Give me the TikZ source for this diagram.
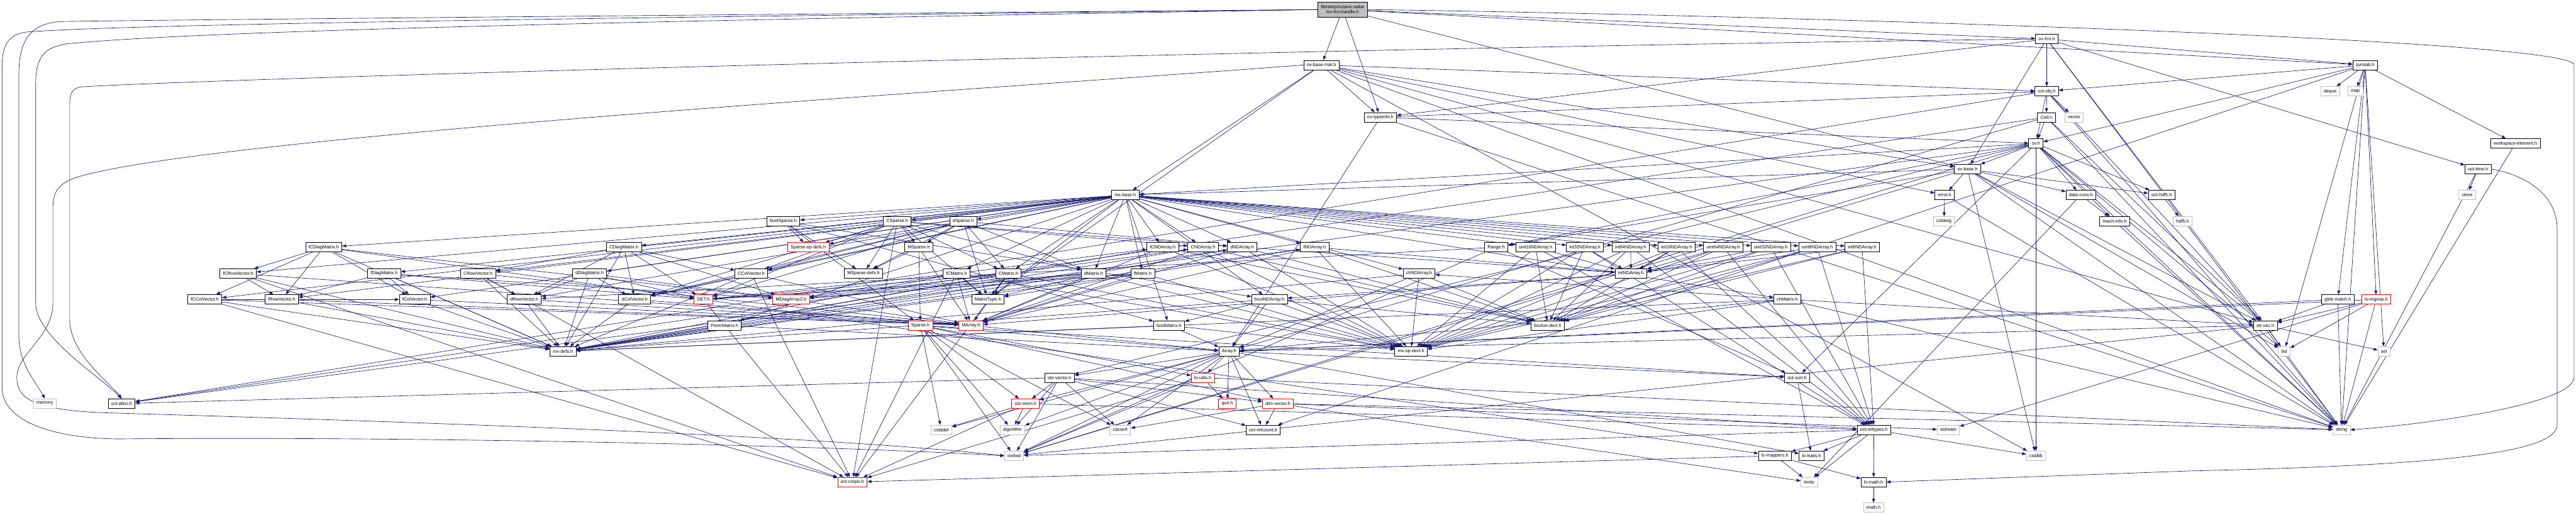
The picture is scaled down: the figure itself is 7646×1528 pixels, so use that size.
\documentclass[tikz,border=0pt]{standalone}
\usepackage{fontspec}
\setmainfont{Liberation Sans}
\usetikzlibrary{arrows.meta,backgrounds}
\definecolor{eblue}{HTML}{191970}
\definecolor{lgray}{HTML}{BFBFBF}
\tikzset{
  nb/.style={draw=black, line width=1.4pt, fill=white, minimum height=28pt, inner xsep=9pt, inner ysep=0pt, font=\fontsize{13.6}{15}\selectfont},
  ng/.style={nb, draw=lgray},
  nr/.style={nb, draw=red},
  ntop/.style={nb, fill=lgray, align=center, minimum height=45pt},
  e/.style={draw=eblue, line width=1.2pt, -{Triangle[length=12pt,width=9pt]}},
}
\begin{document}
\begin{tikzpicture}[x=1pt,y=1pt]
\useasboundingbox (0,0) rectangle (7646,-1528);
% ---- nodes ----
\node[ntop] (H) at (3985,-28.5) {libinterp/octave-value\\/ov-fcn-handle.h};
\node[nb] (F) at (6075,-116) {ov-fcn.h};
\node[nb] (BM) at (3922,-193) {ov-base-mat.h};
\node[nb] (S) at (7020,-193) {symtab.h};
\node[nb] (O) at (6075,-271) {oct-obj.h};
\node[ng] (deque) at (6916,-271) {deque};
\node[ng] (map) at (6991,-271) {map};
\node[nb] (TI) at (4097,-348) {ov-typeinfo.h};
\node[nb] (Cell) at (6074,-348) {Cell.h};
\node[ng] (vector) at (6156,-348) {vector};
\node[nb] (V) at (6043,-426) {ov.h};
\node[nb] (WE) at (7466,-426) {workspace-element.h};
\node[nb] (B) at (5840,-502) {ov-base.h};
\node[nb] (OT) at (7355,-502) {oct-time.h};
\node[nb] (MB) at (3340,-579) {mx-base.h};
\node[nb] (err) at (5772,-579) {error.h};
\node[nb] (DC) at (6176,-579) {data-conv.h};
\node[nb] (hdfive) at (6416,-579) {oct-hdf5.h};
\node[ng] (ctime) at (7323,-579) {ctime};
\node[nb] (boolSp) at (2325,-657) {boolSparse.h};
\node[nb] (CSp) at (2663,-657) {CSparse.h};
\node[nb] (dSp) at (2859,-657) {dSparse.h};
\node[ng] (cstdarg) at (5770,-657) {cstdarg};
\node[nb] (machinfo) at (6277,-657) {mach-info.h};
\node[ng] (hdfiveh) at (6478,-657) {hdf5.h};
\node[nb] (fCDiag) at (961,-734) {fCDiagMatrix.h};
\node[nb] (CDiag) at (1852,-734) {CDiagMatrix.h};
\node[nr] (SpOpDefs) at (2399,-734) {Sparse-op-defs.h};
\node[nb] (MSp) at (2727,-734) {MSparse.h};
\node[nb] (fCND) at (3451,-734) {fCNDArray.h};
\node[nb] (CND) at (3571,-734) {CNDArray.h};
\node[nb] (dND) at (3687,-734) {dNDArray.h};
\node[nb] (fND) at (3902,-734) {fNDArray.h};
\node[nb] (Range) at (4441,-734) {Range.h};
\node[nb] (u16) at (4558,-734) {uint16NDArray.h};
\node[nb] (i32) at (4704,-734) {int32NDArray.h};
\node[nb] (i64) at (4840,-734) {int64NDArray.h};
\node[nb] (i16) at (4976,-734) {int16NDArray.h};
\node[nb] (u64) at (5115,-734) {uint64NDArray.h};
\node[nb] (u32) at (5256,-734) {uint32NDArray.h};
\node[nb] (u8) at (5394,-734) {uint8NDArray.h};
\node[nb] (i8) at (5527,-734) {int8NDArray.h};
\node[nb] (fCRow) at (707,-812) {fCRowVector.h};
\node[nb] (fDiag) at (1140,-812) {fDiagMatrix.h};
\node[nb] (CRow) at (1419,-812) {CRowVector.h};
\node[nb] (dDiag) at (1750,-812) {dDiagMatrix.h};
\node[nb] (CCol) at (2230,-812) {CColVector.h};
\node[nb] (MSpDefs) at (2563,-812) {MSparse-defs.h};
\node[nb] (fCM) at (2839,-812) {fCMatrix.h};
\node[nb] (CM) at (2993,-812) {CMatrix.h};
\node[nb] (dM) at (3246,-812) {dMatrix.h};
\node[nb] (fM) at (3392,-812) {fMatrix.h};
\node[nb] (chND) at (4212,-812) {chNDArray.h};
\node[nb] (intND) at (4841,-812) {intNDArray.h};
\node[nb] (fCCol) at (608,-889) {fCColVector.h};
\node[nb] (fRow) at (836,-889) {fRowVector.h};
\node[nb] (fCol) at (1231,-889) {fColVector.h};
\node[nb] (dRow) at (1556,-889) {dRowVector.h};
\node[nb] (dCol) at (1884,-889) {dColVector.h};
\node[nr] (DET) at (2088,-889) {DET.h};
\node[nr] (MDiag) at (2348,-889) {MDiagArray2.h};
\node[nb] (MT) at (2932,-889) {MatrixType.h};
\node[nb] (boolND) at (3768,-889) {boolNDArray.h};
\node[nb] (chM) at (5305,-889) {chMatrix.h};
\node[nb] (glob) at (6939,-889) {glob-match.h};
\node[nr] (regexp) at (7053,-889) {lo-regexp.h};
\node[nb] (Perm) at (2151,-966) {PermMatrix.h};
\node[nr] (Sparse) at (2732,-966) {Sparse.h};
\node[nr] (MArray) at (2882,-966) {MArray.h};
\node[nb] (boolM) at (3470,-966) {boolMatrix.h};
\node[nb] (bsx) at (4594,-966) {bsxfun-decl.h};
\node[nb] (strvec) at (6724,-966) {str-vec.h};
\node[nb] (mxdefs) at (1671,-1043) {mx-defs.h};
\node[nb] (Array) at (3648,-1043) {Array.h};
\node[nb] (mxop) at (4188,-1043) {mx-op-decl.h};
\node[ng] (list) at (6780,-1043) {list};
\node[ng] (set) at (7076,-1043) {set};
\node[nb] (idx) at (3145,-1121) {idx-vector.h};
\node[nr] (loutils) at (3570,-1121) {lo-utils.h};
\node[nb] (octsort) at (5334,-1121) {oct-sort.h};
\node[ng] (memory) at (133,-1198) {memory};
\node[nb] (octalloc) at (361,-1198) {oct-alloc.h};
\node[nr] (octmem) at (3044,-1198) {oct-mem.h};
\node[nr] (quit) at (3643,-1198) {quit.h};
\node[nr] (dimv) at (3793,-1198) {dim-vector.h};
\node[ng] (cstddef) at (2794,-1276) {cstddef};
\node[ng] (algorithm) at (3005,-1276) {algorithm};
\node[ng] (cassert) at (3325,-1276) {cassert};
\node[nb] (refcount) at (3749,-1276) {oct-refcount.h};
\node[nb] (inttypes) at (5562,-1276) {oct-inttypes.h};
\node[ng] (sstream) at (5783,-1276) {sstream};
\node[ng] (string) at (6950,-1276) {string};
\node[ng] (iosfwd) at (3010,-1353) {iosfwd};
\node[nb] (lomappers) at (5268,-1353) {lo-mappers.h};
\node[nb] (lotraits) at (5377,-1353) {lo-traits.h};
\node[ng] (cstdlib) at (6043,-1353) {cstdlib};
\node[nr] (cmplx) at (2530,-1431) {oct-cmplx.h};
\node[ng] (limits) at (5370,-1431) {limits};
\node[nb] (lomath) at (5561,-1431) {lo-math.h};
\node[ng] (mathh) at (5561,-1507) {math.h};
% ---- edges ----
\begin{scope}[on background layer]
\fill[white] (0,0) rectangle (7646,-1528);
\foreach \t in {B,BM,F,TI,S} \draw[e] (H) -- (\t);
\foreach \t in {cstdlib,string,MB,strvec,MT,err,O,B,TI} \draw[e] (BM) -- (\t);
\foreach \t in {string,Array,O,V} \draw[e] (TI) -- (\t);
\foreach \t in {string,OT,strvec,O,B,TI,S} \draw[e] (F) -- (\t);
\foreach \t in {deque,list,map,set,string,glob,regexp,O,refcount,V,WE} \draw[e] (S) -- (\t);
\foreach \t in {string,vector,octalloc,strvec,Cell,V} \draw[e] (O) -- (\t);
\foreach \t in {string,Array,octalloc,strvec,V} \draw[e] (Cell) -- (\t);
\foreach \t in {cstdlib,iosfwd,string,list,Range,DC,idx,machinfo,MB,octalloc,hdfive,octsort,strvec,B} \draw[e] (V) -- (\t);
\foreach \t in {cstdlib,iosfwd,list,string,Range,DC,MB,strvec,err,hdfive} \draw[e] (B) -- (\t);
\foreach \t in {cstdarg,string} \draw[e] (err) -- (\t);
\foreach \t in {limits,machinfo} \draw[e] (DC) -- (\t);
\draw[e] (machinfo) -- (string);
\draw[e] (hdfive) -- (hdfiveh);
\foreach \t in {ctime,string} \draw[e] (OT) -- (\t);
\draw[e] (WE) -- (string);
\foreach \t in {string,Array,strvec} \draw[e] (glob) -- (\t);
\foreach \t in {list,sstream,string,Array,strvec} \draw[e] (regexp) -- (\t);
\foreach \t in {iosfwd,list,set,string,Array} \draw[e] (strvec) -- (\t);
\foreach \t in {MT,boolM,chM,dM,CM,fM,fCM,dCol,CCol,fCol,fCCol,dRow,CRow,fRow,fCRow,dDiag,CDiag,fDiag,fCDiag,Perm,boolSp,CSp,dSp,boolND,chND,dND,CND,fND,fCND,i8,i16,i32,i64,u8,u16,u32,u64} \draw[e] (MB) -- (\t);
\foreach \t in {iosfwd,dRow,octsort} \draw[e] (Range) -- (\t);
\foreach \t in {dND,MArray,MDiag,MT,mxdefs,mxop,DET} \draw[e] (dM) -- (\t);
\foreach \t in {CND,MArray,MDiag,MT,mxdefs,mxop,DET,cmplx} \draw[e] (CM) -- (\t);
\foreach \t in {fND,MArray,MDiag,MT,mxdefs,mxop,DET} \draw[e] (fM) -- (\t);
\foreach \t in {fCND,MArray,MDiag,MT,mxdefs,mxop,DET,cmplx} \draw[e] (fCM) -- (\t);
\foreach \t in {MArray,mxdefs} \draw[e] (dCol) -- (\t);
\foreach \t in {MArray,mxdefs} \draw[e] (dRow) -- (\t);
\foreach \t in {MArray,mxdefs} \draw[e] (fCol) -- (\t);
\foreach \t in {MArray,mxdefs} \draw[e] (fRow) -- (\t);
\foreach \t in {dCol,MArray,mxdefs,cmplx} \draw[e] (CCol) -- (\t);
\foreach \t in {dRow,MArray,mxdefs,cmplx} \draw[e] (CRow) -- (\t);
\foreach \t in {fCol,MArray,mxdefs,cmplx} \draw[e] (fCCol) -- (\t);
\foreach \t in {fRow,MArray,mxdefs,cmplx} \draw[e] (fCRow) -- (\t);
\foreach \t in {MDiag,dRow,dCol,DET,mxdefs} \draw[e] (dDiag) -- (\t);
\foreach \t in {MDiag,CRow,CCol,dRow,dCol,DET,mxdefs} \draw[e] (CDiag) -- (\t);
\foreach \t in {MDiag,fRow,fCol,DET,mxdefs} \draw[e] (fDiag) -- (\t);
\foreach \t in {MDiag,fCRow,fCCol,fRow,fCol,DET,mxdefs} \draw[e] (fCDiag) -- (\t);
\foreach \t in {Array,mxdefs} \draw[e] (Perm) -- (\t);
\foreach \t in {Array,mxdefs,mxop} \draw[e] (boolM) -- (\t);
\foreach \t in {Array,mxdefs,mxop,boolM,bsx} \draw[e] (boolND) -- (\t);
\foreach \t in {string,Array,chND,mxdefs,mxop,strvec} \draw[e] (chM) -- (\t);
\foreach \t in {Array,mxdefs,mxop,bsx} \draw[e] (chND) -- (\t);
\foreach \t in {MArray,intND,mxdefs,mxop,bsx} \draw[e] (dND) -- (\t);
\foreach \t in {MArray,mxdefs,mxop,bsx} \draw[e] (CND) -- (\t);
\foreach \t in {MArray,intND,mxdefs,mxop,bsx} \draw[e] (fND) -- (\t);
\foreach \t in {MArray,mxdefs,mxop,bsx} \draw[e] (fCND) -- (\t);
\foreach \t in {MArray,boolND} \draw[e] (intND) -- (\t);
\foreach \s in {i8,i16,i32,i64,u8,u16,u32,u64} {
  \foreach \t in {intND,mxop,inttypes,bsx} \draw[e] (\s) -- (\t);
}
\foreach \t in {dM,dND,CM,dCol,CCol,DET,MSp,MSpDefs,SpOpDefs,MT} \draw[e] (dSp) -- (\t);
\foreach \t in {dM,dND,CND,CM,dCol,CCol,DET,MSp,MSpDefs,SpOpDefs,MT,cmplx} \draw[e] (CSp) -- (\t);
\foreach \t in {Sparse,MSpDefs,SpOpDefs,boolM,boolND} \draw[e] (boolSp) -- (\t);
\foreach \t in {MArray,Sparse,MSpDefs} \draw[e] (MSp) -- (\t);
\foreach \t in {cassert,cstddef,iosfwd,algorithm,Array,dimv,loutils,octsort,octmem} \draw[e] (Sparse) -- (\t);
\draw[e] (MArray) -- (Array);
\draw[e] (MDiag) -- (MArray);
\foreach \t in {cmplx,lomappers} \draw[e] (DET) -- (\t);
\foreach \t in {cassert,cstddef,algorithm,iosfwd,dimv,idx,lotraits,loutils,octsort,quit,octmem,refcount} \draw[e] (Array) -- (\t);
\foreach \t in {cassert,algorithm,iosfwd,dimv,inttypes,octalloc,octmem,refcount} \draw[e] (idx) -- (\t);
\foreach \t in {cstddef,algorithm,cmplx,inttypes} \draw[e] (octmem) -- (\t);
\foreach \t in {iosfwd,string,cmplx,quit} \draw[e] (loutils) -- (\t);
\foreach \t in {cassert,limits,sstream,string,refcount} \draw[e] (dimv) -- (\t);
\foreach \t in {cstdlib,limits,iosfwd,lotraits,lomath,lomappers} \draw[e] (inttypes) -- (\t);
\foreach \t in {limits,cmplx,lomath} \draw[e] (lomappers) -- (\t);
\draw[e] (lomath) -- (mathh);
\draw[e] (octsort) -- (lotraits);
% long routed edges
\draw[e] (H.west) .. controls (2000,-50) and (400,-70) .. (80,-95) .. controls (20,-102) and (6,-140) .. (6,-200) -- (6,-1150) .. controls (6,-1240) and (130,-1300) .. (350,-1303) .. controls (1200,-1295) and (2400,-1320) .. (iosfwd.west);
\draw[e] (H.west) .. controls (2000,-45) and (400,-60) .. (180,-64) .. controls (90,-70) and (56,-120) .. (56,-220) -- (56,-1000) .. controls (56,-1080) and (110,-1140) .. (memory.north);
\draw[e] (H.west) .. controls (2000,-60) and (600,-90) .. (200,-130) .. controls (130,-140) and (106,-170) .. (106,-250) -- (106,-900) .. controls (106,-1000) and (300,-1120) .. (octalloc.north);
\draw[e] (BM.west) .. controls (3000,-260) and (700,-400) .. (250,-520) .. controls (170,-540) and (157,-570) .. (157,-620) -- (157,-900) .. controls (157,-1000) and (50,-1050) .. (50,-1120) .. controls (50,-1180) and (90,-1215) .. (300,-1225) .. controls (1500,-1260) and (2500,-1300) .. (iosfwd.west);
\draw[e] (F.west) .. controls (4000,-140) and (700,-230) .. (240,-258) .. controls (215,-262) and (207,-275) .. (207,-310) -- (207,-950) .. controls (207,-1050) and (330,-1140) .. (octalloc.north);
\draw[e] (H.east) .. controls (5000,-40) and (7580,-110) .. (7640,-190) -- (7640,-1120) .. controls (7640,-1200) and (7200,-1260) .. (string.east);
\draw[e] (OT.east) .. controls (7500,-520) and (7590,-580) .. (7590,-680) -- (7590,-1260) .. controls (7590,-1340) and (7300,-1380) .. (6500,-1398) -- (lomath.east);
\end{scope}
\end{tikzpicture}
\end{document}
